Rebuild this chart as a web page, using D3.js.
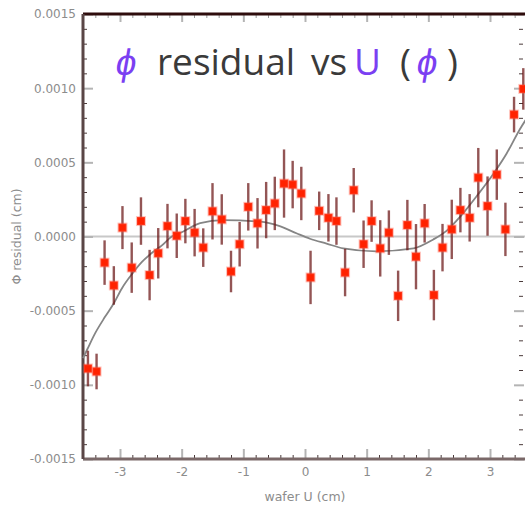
<!DOCTYPE html>
<html>
<head>
<meta charset="utf-8">
<script src="https://cdn.jsdelivr.net/npm/d3@7"></script>
<style>
  html, body { margin: 0; padding: 0; background: #fff; }
  svg { display: block; }
</style>
</head>
<body>
<svg id="chart" width="525" height="507"></svg>
<script>
// Wafer U position (cm) of each measurement
const uPos = [-3.52, -3.38, -3.25, -3.10, -2.96, -2.81, -2.66, -2.52, -2.38, -2.23,
              -2.08, -1.94, -1.79, -1.65, -1.50, -1.35, -1.20, -1.06, -0.92, -0.77,
              -0.63, -0.49, -0.34, -0.20, -0.06, 0.09, 0.23, 0.38, 0.51, 0.65,
              0.79, 0.95, 1.08, 1.22, 1.36, 1.51, 1.66, 1.80, 1.94, 2.09,
              2.23, 2.38, 2.52, 2.67, 2.81, 2.96, 3.11, 3.25, 3.39, 3.54];
// Phi residual (cm)
const residual = [-0.00089, -0.00091, -0.000176, -0.00033, 0.00006, -0.00021, 0.000104, -0.00026, -0.000113, 0.00007,
                  0.000005, 0.000104, 0.000026, -0.000075, 0.00017, 0.000115, -0.000236, -0.000052, 0.0002, 0.000089,
                  0.000178, 0.000223, 0.000357, 0.00035, 0.00029, -0.000276, 0.000173, 0.000126, 0.000104, -0.000243,
                  0.000312, -0.000052, 0.000104, -0.00008, 0.000026, -0.0004, 0.000077, -0.000136, 0.000089, -0.000395,
                  -0.000075, 0.000048, 0.000178, 0.000126, 0.000397, 0.000205, 0.000417, 0.000048, 0.000822, 0.000995];
// One-sigma uncertainty on each residual (cm)
const residualErr = [0.00012, 0.00012, 0.00015, 0.00013, 0.000145, 0.00017, 0.00016, 0.00017, 0.00017, 0.00015,
                     0.00015, 0.00015, 0.00016, 0.00013, 0.00019, 0.00017, 0.00014, 0.00015, 0.00016, 0.00017,
                     0.00019, 0.00018, 0.00023, 0.00016, 0.00018, 0.00018, 0.00013, 0.00016, 0.00016, 0.00016,
                     0.00015, 0.00016, 0.00014, 0.00019, 0.00015, 0.00017, 0.00017, 0.00022, 0.00013, 0.00017,
                     0.00016, 0.0002, 0.00015, 0.00016, 0.0002, 0.0002, 0.00017, 0.00018, 0.00012, 0.00014];

// Fitted trend curve sampled along U
const fitU = [-3.6, -3.53, -3.40, -3.24, -3.10, -2.97, -2.80, -2.64, -2.48, -2.32, -2.16, -1.99,
              -1.70, -1.33, -0.73, -0.41, -0.13, 0.08, 0.35, 0.62, 1.16, 1.76, 2.08, 2.30,
              2.51, 2.78, 3.05, 3.27, 3.48, 3.6];
const fitV = [-0.00082, -0.00076, -0.00065, -0.00054, -0.00045, -0.00035, -0.00025, -0.00017, -0.00011, -0.00006, 0.0, 0.00003,
              0.00009, 0.00011, 0.0001, 0.00007, 0.00002, -0.000015, -0.000048, -0.00008, -0.0001, -0.00008, -0.00002, 0.00004,
              0.00013, 0.00027, 0.00042, 0.00056, 0.00072, 0.0008];

// Axis ticks
const xTicks = [-3, -2, -1, 0, 1, 2, 3];
const yTicks = [-0.0015, -0.001, -0.0005, 0, 0.0005, 0.001, 0.0015];

const svg = d3.select("#chart");
const plotL = 83, plotR = 527, plotT = 14, plotB = 459;

const x = d3.scaleLinear().domain([-3.6, 3.6]).range([plotL, plotR]);
const y = d3.scaleLinear().domain([-0.0015, 0.0015]).range([plotB, plotT]);

const xMinor = d3.range(-36, 37, 2).map(d => d / 10).filter(d => !xTicks.some(t => Math.abs(t - d) < 1e-9));
const yMinor = d3.range(-15, 16, 1).map(d => d / 10000).filter(d => !yTicks.some(t => Math.abs(t - d) < 1e-12));

// plain hyphen for negative numbers
const locale = d3.formatLocale({decimal: ".", thousands: ",", grouping: [3], currency: ["", ""], minus: "-"});

const labelFont = "'DejaVu Sans', sans-serif";

// zero reference line
svg.append("line")
  .attr("x1", plotL).attr("x2", plotR)
  .attr("y1", y(0)).attr("y2", y(0))
  .attr("stroke", "#c8c8c8").attr("stroke-width", 2);

function styleAxis(g, color) {
  g.select(".domain").remove();
  g.selectAll(".tick line").attr("stroke", color);
}

// minor ticks (short, dark) pointing inward
const minorColor = "#4a3a3a";
svg.append("g").attr("transform", `translate(${plotL},0)`)
  .call(d3.axisLeft(y).tickValues(yMinor).tickSize(-4).tickFormat(""))
  .call(g => styleAxis(g, minorColor));
svg.append("g").attr("transform", `translate(${plotR - 4},0)`)
  .call(d3.axisRight(y).tickValues(yMinor).tickSize(-4).tickFormat(""))
  .call(g => styleAxis(g, minorColor));
svg.append("g").attr("transform", `translate(0,${plotB})`)
  .call(d3.axisBottom(x).tickValues(xMinor).tickSize(-4).tickFormat(""))
  .call(g => styleAxis(g, minorColor));
svg.append("g").attr("transform", `translate(0,${plotT})`)
  .call(d3.axisTop(x).tickValues(xMinor).tickSize(-4).tickFormat(""))
  .call(g => styleAxis(g, "#9a9a9a"));

// major ticks (longer, light) with labels
const majorColor = "#b4b4b4";
const yAxis = svg.append("g").attr("transform", `translate(${plotL},0)`)
  .call(d3.axisLeft(y).tickValues(yTicks).tickSize(-10).tickPadding(7).tickFormat(locale.format(".4f")));
styleAxis(yAxis, majorColor);
yAxis.selectAll(".tick line").attr("stroke-width", 2);
yAxis.selectAll("text").attr("fill", "#8c8c8c").attr("font-size", 12).attr("font-family", labelFont);

const yAxisR = svg.append("g").attr("transform", `translate(${plotR - 3},0)`)
  .call(d3.axisRight(y).tickValues(yTicks).tickSize(-10).tickFormat(""));
styleAxis(yAxisR, majorColor);
yAxisR.selectAll(".tick line").attr("stroke-width", 2);

const xAxis = svg.append("g").attr("transform", `translate(0,${plotB})`)
  .call(d3.axisBottom(x).tickValues(xTicks).tickSize(-10).tickPadding(8).tickFormat(locale.format("d")));
styleAxis(xAxis, majorColor);
xAxis.selectAll(".tick line").attr("stroke-width", 2);
xAxis.selectAll("text").attr("fill", "#8c8c8c").attr("font-size", 12).attr("font-family", labelFont);

const xAxisT = svg.append("g").attr("transform", `translate(0,${plotT})`)
  .call(d3.axisTop(x).tickValues(xTicks).tickSize(-8).tickFormat(""));
styleAxis(xAxisT, majorColor);
xAxisT.selectAll(".tick line").attr("stroke-width", 2);

// frame
svg.append("line").attr("x1", plotL).attr("x2", plotR).attr("y1", plotT).attr("y2", plotT)
  .attr("stroke", "#2e0c0c").attr("stroke-width", 3);
svg.append("line").attr("x1", plotL).attr("x2", plotR).attr("y1", plotB).attr("y2", plotB)
  .attr("stroke", "#7a6868").attr("stroke-width", 3);
svg.append("line").attr("x1", plotL).attr("x2", plotL).attr("y1", plotT).attr("y2", plotB)
  .attr("stroke", "#5a4646").attr("stroke-width", 3);

// axis titles
svg.append("text")
  .attr("x", x(0)).attr("y", 501)
  .attr("text-anchor", "middle")
  .attr("font-family", labelFont).attr("font-size", 12.5)
  .attr("fill", "#8c8c8c")
  .text("wafer U (cm)");

svg.append("text")
  .attr("transform", `translate(21,${y(0)}) rotate(-90)`)
  .attr("text-anchor", "middle")
  .attr("font-family", labelFont).attr("font-size", 12.5)
  .attr("fill", "#8c8c8c")
  .text("Φ residual (cm)");

// fitted curve
const fitPts = fitU.map((u, i) => [u, fitV[i]]);
svg.append("path")
  .datum(fitPts)
  .attr("fill", "none")
  .attr("stroke", "#858585")
  .attr("stroke-width", 1.8)
  .attr("d", d3.line().x(d => x(d[0])).y(d => y(d[1])).curve(d3.curveMonotoneX));

// measurements
const pts = uPos.map((u, i) => ({u, v: residual[i], e: residualErr[i]}));
svg.append("clipPath").attr("id", "plotClip")
  .append("rect").attr("x", plotL).attr("y", plotT).attr("width", plotR - plotL).attr("height", plotB - plotT);

const marks = svg.append("g").attr("clip-path", "url(#plotClip)");
marks.selectAll("line.err").data(pts).join("line")
  .attr("class", "err")
  .attr("x1", d => x(d.u)).attr("x2", d => x(d.u))
  .attr("y1", d => y(d.v - d.e)).attr("y2", d => y(d.v + d.e))
  .attr("stroke", "#6a1414").attr("stroke-opacity", 0.72)
  .attr("stroke-width", 2.4);

marks.selectAll("rect.pt").data(pts).join("rect")
  .attr("class", "pt")
  .attr("x", d => x(d.u) - 4).attr("y", d => y(d.v) - 4)
  .attr("width", 8).attr("height", 8)
  .attr("fill", "#ff2200")
  .attr("stroke", "#ff5a46").attr("stroke-opacity", 0.35).attr("stroke-width", 2);

// title: phi glyphs get a slight lean
const purple = "#7b3ff2", dark = "#3a3a3a";
const titleFont = "'Open Sans', sans-serif";
const titleY = 75;
const titleParts = [
  {t: "ϕ", x: 114, c: purple, lean: true},
  {t: "residual", x: 157, c: dark},
  {t: "vs", x: 311, c: dark},
  {t: "U", x: 354, c: purple},
  {t: "(", x: 400, c: dark},
  {t: "ϕ", x: 415, c: purple, lean: true},
  {t: ")", x: 447, c: dark}
];
svg.append("g").selectAll("text").data(titleParts).join("text")
  .attr("transform", d => `translate(${d.x},${titleY})` + (d.lean ? " skewX(-10)" : ""))
  .attr("font-family", titleFont).attr("font-size", 37)
  .attr("fill", d => d.c)
  .text(d => d.t);
</script>
</body>
</html>
